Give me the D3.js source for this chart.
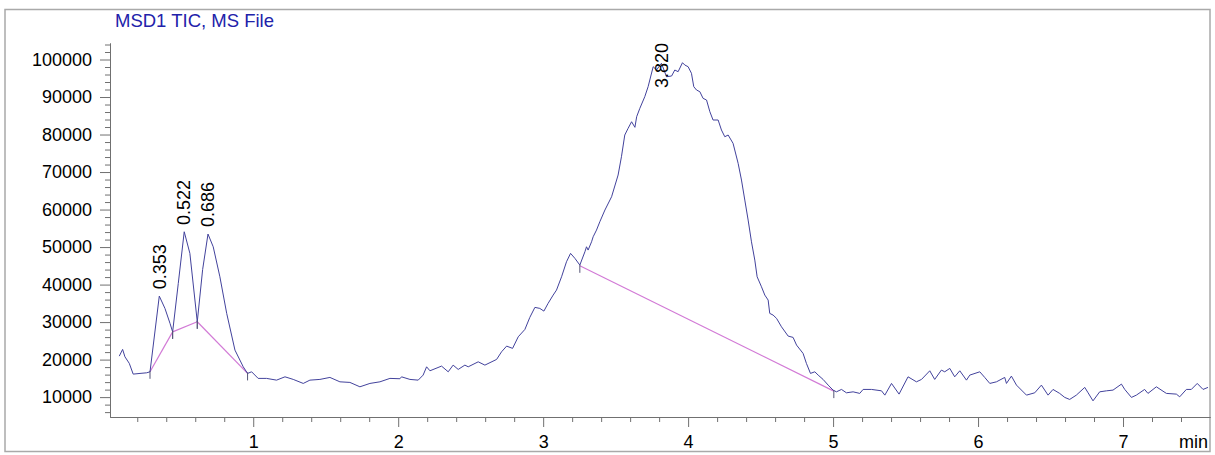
<!DOCTYPE html>
<html>
<head>
<meta charset="utf-8">
<script src="https://cdnjs.cloudflare.com/ajax/libs/d3/7.8.5/d3.min.js"></script>
<style>
  body { margin: 0; background: #fff; }
  svg { display: block; font-family: "Liberation Sans", Arial, sans-serif; }
</style>
</head>
<body>
<div class="svg"></div>
<script>
var w = 1215;
var h = 455;

// TIC trace: retention time (min) / counts
var ticTime = [0.076, 0.099, 0.115, 0.145, 0.172, 0.219, 0.265, 0.288, 0.352, 0.391, 0.426, 0.444, 0.483, 0.524, 0.563, 0.614, 0.651, 0.688, 0.724, 0.770, 0.817, 0.874, 0.931, 0.961, 0.989,
  1.034, 1.092, 1.161, 1.219, 1.276, 1.345, 1.391, 1.460, 1.529, 1.598, 1.667, 1.736, 1.805, 1.874, 1.943, 2.012, 2.023, 2.081, 2.138, 2.172, 2.196, 2.219, 2.299, 2.345, 2.379, 2.414, 2.460, 2.483,
  2.552, 2.598, 2.679, 2.713, 2.748, 2.789, 2.828, 2.874, 2.908, 2.943, 2.977, 3.005, 3.034, 3.069, 3.092, 3.127, 3.161, 3.189, 3.219, 3.253, 3.288, 3.299, 3.310, 3.334, 3.345, 3.368,
  3.391, 3.426, 3.472, 3.517, 3.540, 3.563, 3.586, 3.610, 3.633, 3.645, 3.667, 3.701, 3.724, 3.759, 3.782, 3.816, 3.851, 3.886, 3.908, 3.931, 3.961, 3.977, 4.000, 4.023, 4.039, 4.058,
  4.081, 4.103, 4.127, 4.150, 4.172, 4.207, 4.230, 4.253, 4.276, 4.310, 4.345, 4.368, 4.391, 4.414, 4.437, 4.460, 4.476, 4.506, 4.529, 4.552, 4.563, 4.586, 4.610, 4.644, 4.690, 4.724,
  4.748, 4.793, 4.816, 4.844, 4.874, 4.897, 4.931, 4.966, 5.000, 5.023, 5.058, 5.092, 5.138, 5.184, 5.207, 5.265, 5.334, 5.357, 5.403, 5.455, 5.517, 5.575, 5.610, 5.667, 5.701, 5.747,
  5.770, 5.805, 5.839, 5.874, 5.920, 5.943, 6.012, 6.046, 6.081, 6.127, 6.184, 6.196, 6.230, 6.265, 6.334, 6.391, 6.437, 6.483, 6.517, 6.563, 6.598, 6.632, 6.678, 6.736, 6.759, 6.793,
  6.839, 6.886, 6.931, 6.989, 7.012, 7.058, 7.092, 7.149, 7.172, 7.230, 7.299, 7.368, 7.391, 7.437, 7.471, 7.512, 7.552, 7.586];
var ticCounts = [20930, 22720, 20750, 19000, 16130, 16320, 16480, 16750, 36930, 33650, 29650, 27400, 40300, 54080, 48320, 30080, 44000, 53470, 50080, 42080, 32320, 22530, 18080, 16320, 16750,
  14990, 14990, 14530, 15410, 14720, 13650, 14530, 14720, 15250, 14080, 13920, 12750, 13650, 14080, 14990, 14900, 15410, 14720, 14530, 15870, 18080, 17020, 18270, 16750, 18530, 17380, 18530, 18080,
  19410, 18530, 20050, 22080, 23600, 22990, 26080, 28050, 31250, 33920, 33650, 32930, 34990, 37200, 38530, 42080, 46080, 48320, 46990, 45200, 48750, 50080, 49200, 51410, 52750, 54530,
  56750, 59870, 63410, 69200, 74080, 79870, 81650, 83410, 81920, 84750, 86990, 90080, 92750, 98080, 97200, 98990, 95410, 95600, 97200, 96750, 99150, 98530, 98080, 96320, 92750, 91870,
  91410, 89650, 89200, 86080, 83870, 83870, 81200, 79410, 79870, 77650, 72320, 67870, 62530, 57200, 51400, 46530, 42080, 39410, 37200, 35870, 32320, 31870, 30990, 28750, 26270, 25920,
  23870, 21650, 18990, 16320, 16750, 15870, 14720, 13200, 11870, 11410, 12050, 11150, 11410, 10990, 12050, 12050, 11680, 10530, 13650, 10800, 15410, 14080, 14720, 17020, 14720, 17200,
  16750, 17650, 15410, 17020, 14530, 15870, 16750, 15250, 13650, 14080, 15250, 13650, 15600, 13200, 10530, 11150, 13200, 10530, 12050, 10990, 9920, 9380, 10530, 12590, 11150, 9010,
  11410, 11680, 11870, 13470, 12050, 9920, 10530, 12050, 10990, 12750, 10990, 10800, 10080, 12050, 12050, 13650, 12050, 12590];

// integrated peaks
var peakRT = [0.353, 0.522, 0.686, 3.820];
var peakApex = [36900, 54000, 53500, 99000];
var peakLabels = ["0.353", "0.522", "0.686", "3.820"];

// baseline segments under the peaks
var baseFromT = [0.288, 0.444, 0.614, 3.253];
var baseFromV = [16750, 27400, 30080, 45000];
var baseToT = [0.444, 0.614, 0.961, 5.005];
var baseToV = [27400, 30080, 16320, 11600];

var xTicks = [1, 2, 3, 4, 5, 6, 7];
var yTicks = [10000, 20000, 30000, 40000, 50000, 60000, 70000, 80000, 90000, 100000];

var svg = d3.select(".svg")
  .append("svg")
  .attr("width", w)
  .attr("height", h);

var padLeft = 110, padRight = 1210, plotTop = 43, plotBottom = 417;

var xScale = d3.scaleLinear().domain([0.012, 7.6]).range([padLeft, padRight]);
var yScale = d3.scaleLinear().domain([4700, 104400]).range([plotBottom, plotTop]);

// outer frame
svg.append("rect")
  .attr("x", 5)
  .attr("y", 9.5)
  .attr("width", 1205)
  .attr("height", 442)
  .attr("fill", "none")
  .attr("stroke", "#a9a9a9")
  .attr("stroke-width", 1.5);

// title
svg.append("text")
  .text("MSD1 TIC, MS File")
  .attr("x", 115)
  .attr("y", 27)
  .attr("font-size", 18.5)
  .attr("fill", "#2222aa");

var xMinor = d3.range(0.2, 7.5, 0.2).filter(function(d) {
  return Math.abs(d - Math.round(d)) > 0.01;
});
var yMinor = d3.range(6000, 104001, 2000).filter(function(d) {
  return d % 10000 != 0;
});

function styleAxis(g) {
  g.attr("font-size", 18).attr("font-family", "'Liberation Sans', Arial, sans-serif");
  g.selectAll("path, line").attr("stroke", "#707070");
  g.selectAll("text").attr("fill", "#000");
}

svg.append("g")
  .attr("transform", "translate(0," + plotBottom + ")")
  .call(d3.axisBottom(xScale).tickValues(xMinor).tickSize(5).tickSizeOuter(0).tickFormat(""))
  .call(styleAxis);

svg.append("g")
  .attr("transform", "translate(0," + plotBottom + ")")
  .call(d3.axisBottom(xScale).tickValues(xTicks).tickSize(10).tickSizeOuter(0).tickPadding(8).tickFormat(d3.format("d")))
  .call(styleAxis);

svg.append("g")
  .attr("transform", "translate(" + padLeft + ",0)")
  .call(d3.axisLeft(yScale).tickValues(yMinor).tickSize(5).tickSizeOuter(0).tickFormat(""))
  .call(styleAxis);

svg.append("g")
  .attr("transform", "translate(" + padLeft + ",0)")
  .call(d3.axisLeft(yScale).tickValues(yTicks).tickSize(10).tickSizeOuter(0).tickPadding(8).tickFormat(d3.format("d")))
  .call(styleAxis);

svg.append("text")
  .text("min")
  .attr("x", 1208)
  .attr("y", 448)
  .attr("text-anchor", "end")
  .attr("font-size", 18)
  .attr("fill", "#000");

// baselines
var baseIdx = d3.range(baseFromT.length);
svg.append("g")
  .selectAll("line")
  .data(baseIdx)
  .enter()
  .append("line")
  .attr("x1", function(i) { return xScale(baseFromT[i]); })
  .attr("y1", function(i) { return yScale(baseFromV[i]); })
  .attr("x2", function(i) { return xScale(baseToT[i]); })
  .attr("y2", function(i) { return yScale(baseToV[i]); })
  .attr("stroke", "#d27ad6")
  .attr("stroke-width", 1.2);

// TIC trace
var line = d3.line()
  .x(function(i) { return xScale(ticTime[i]); })
  .y(function(i) { return yScale(ticCounts[i]); });

svg.append("path")
  .datum(d3.range(ticTime.length))
  .attr("d", line)
  .attr("fill", "none")
  .attr("stroke", "#42429c")
  .attr("stroke-width", 1);

// small markers at baseline ends
var marks = [];
baseIdx.forEach(function(i) {
  marks.push([baseFromT[i], baseFromV[i]]);
  marks.push([baseToT[i], baseToV[i]]);
});
svg.append("g")
  .selectAll("line")
  .data(marks)
  .enter()
  .append("line")
  .attr("x1", function(d) { return xScale(d[0]); })
  .attr("x2", function(d) { return xScale(d[0]); })
  .attr("y1", function(d) { return yScale(d[1]) - 1; })
  .attr("y2", function(d) { return yScale(d[1]) + 7; })
  .attr("stroke", "#555577")
  .attr("stroke-width", 1);

// peak labels, rotated, pushed down if they'd leave the plot
var labels = svg.append("g")
  .selectAll("text")
  .data(d3.range(peakRT.length))
  .enter()
  .append("text")
  .text(function(i) { return peakLabels[i]; })
  .attr("font-size", 18)
  .attr("fill", "#000")
  .attr("dy", "0.35em");

labels.attr("transform", function(i) {
  var len = this.getComputedTextLength();
  var y = Math.max(yScale(peakApex[i]) - 7, plotTop + len);
  return "translate(" + xScale(peakRT[i]) + "," + y + ") rotate(-90)";
});
</script>
</body>
</html>
